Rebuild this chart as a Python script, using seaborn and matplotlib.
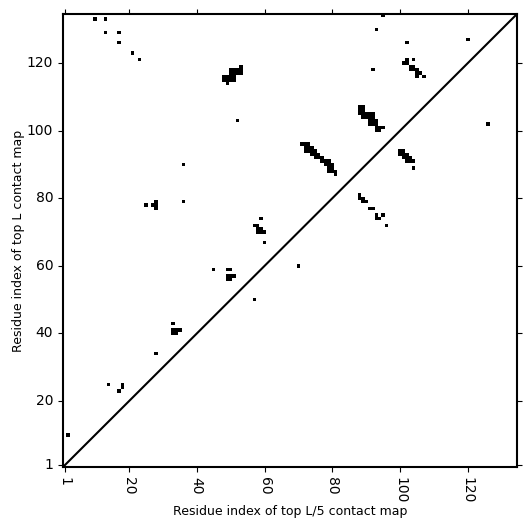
import matplotlib

matplotlib.use("Agg")
import matplotlib.pyplot as plt
import numpy as np
import seaborn as sns

# protein length (residues)
L = 134

# contact positions (x = L/5 map index, y = L map index)
scatter_x = [2, 10, 13, 13, 17, 17, 21, 23, 14, 18, 18, 17, 28, 33, 33, 34, 35, 33, 34,
             25, 27, 28, 28, 28, 36, 36, 45, 57, 70, 52, 92, 93, 95, 102, 120, 126]
scatter_y = [10, 133, 133, 129, 129, 126, 123, 121, 25, 25, 24, 23, 34, 43, 41, 41, 41, 40, 40,
             78, 78, 79, 78, 77, 79, 90, 59, 50, 60, 103, 118, 130, 134, 126, 127, 102]

# small block near (50, 57)
block_e_x = [49, 50, 49, 50, 51, 49, 50]
block_e_y = [59, 59, 57, 57, 57, 56, 56]

# block near (59, 71)
block_d_x = [59, 57, 58, 58, 59, 58, 59, 60, 60]
block_d_y = [74, 72, 72, 71, 71, 70, 70, 70, 67]

# block near (50, 116)
block_h_x = [49, 48, 49, 50, 51, 48, 49, 50, 51, 50, 51, 52, 53, 50, 51, 52, 53, 53]
block_h_y = [114, 115, 115, 115, 115, 116, 116, 116, 116, 117, 117, 117, 117, 118, 118, 118, 118, 119]

# diagonal band 71-81 / 87-96
band_x = [71, 72, 73, 72, 73, 74, 72, 73, 74, 75, 74, 75, 76, 75, 76, 77, 77, 78, 79, 78, 79, 80,
          79, 80, 79, 80, 81, 81]
band_y = [96, 96, 96, 95, 95, 95, 94, 94, 94, 94, 93, 93, 93, 92, 92, 92, 91, 91, 91, 90, 90, 90,
          89, 89, 88, 88, 88, 87]

# strand pairing 88-96 / 72-81
strand_x = [88, 88, 89, 89, 90, 91, 92, 93, 93, 94, 95, 96]
strand_y = [81, 80, 80, 79, 79, 77, 77, 75, 74, 74, 75, 72]

# block 88-95 / 100-107
block_a_x = [88, 89, 88, 89, 88, 89, 90, 91, 92, 89, 90, 91, 92, 91, 92, 93, 91, 92, 93, 93, 94, 95,
             93, 94]
block_a_y = [107, 107, 106, 106, 105, 105, 105, 105, 105, 104, 104, 104, 104, 103, 103, 103, 102, 102,
             102, 101, 101, 101, 100, 100]

# block 100-104 / 89-94
block_c_x = [100, 101, 100, 101, 101, 102, 102, 103, 102, 103, 104, 104]
block_c_y = [94, 94, 93, 93, 92, 93, 92, 92, 91, 91, 91, 89]

# block 101-107 / 116-121
block_g_x = [101, 102, 102, 104, 103, 104, 103, 104, 105, 105, 106, 105, 107]
block_g_y = [120, 120, 121, 121, 119, 119, 118, 118, 118, 117, 117, 116, 116]

tick_vals = [1, 20, 40, 60, 80, 100, 120]

all_x = scatter_x + block_e_x + block_d_x + block_h_x + band_x + strand_x + block_a_x + block_c_x + block_g_x
all_y = scatter_y + block_e_y + block_d_y + block_h_y + band_y + strand_y + block_a_y + block_c_y + block_g_y

# contact matrix, row = y residue, col = x residue (1-based -> 0-based)
mat = np.zeros((L, L))
for xi, yi in zip(all_x, all_y):
    mat[yi - 1, xi - 1] = 1

fig, ax = plt.subplots(figsize=(5.31, 5.31), dpi=100)
fig.subplots_adjust(left=0.1186, right=0.9736, top=0.9736, bottom=0.1205)

sns.heatmap(mat, cmap="Greys", vmin=0, vmax=1, cbar=False, ax=ax)

# heatmap flips y, put residue 1 at the bottom
ax.set_xlim(0, L)
ax.set_ylim(0, L)
ax.plot([0, L], [0, L], color="black", lw=1.5)

ax.set_xticks([t - 0.5 for t in tick_vals])
ax.set_xticklabels([str(t) for t in tick_vals], rotation=270)
ax.set_yticks([t - 0.5 for t in tick_vals])
ax.set_yticklabels([str(t) for t in tick_vals], rotation=0)
ax.tick_params(top=True, right=True, labelsize=10)

for s in ax.spines.values():
    s.set_visible(True)
    s.set_linewidth(1.5)
    s.set_color("black")

ax.set_xlabel("Residue index of top L/5 contact map", fontsize=9, labelpad=1)
ax.set_ylabel("Residue index of top L contact map", fontsize=9, labelpad=1)

plt.savefig("out.png", dpi=100)
